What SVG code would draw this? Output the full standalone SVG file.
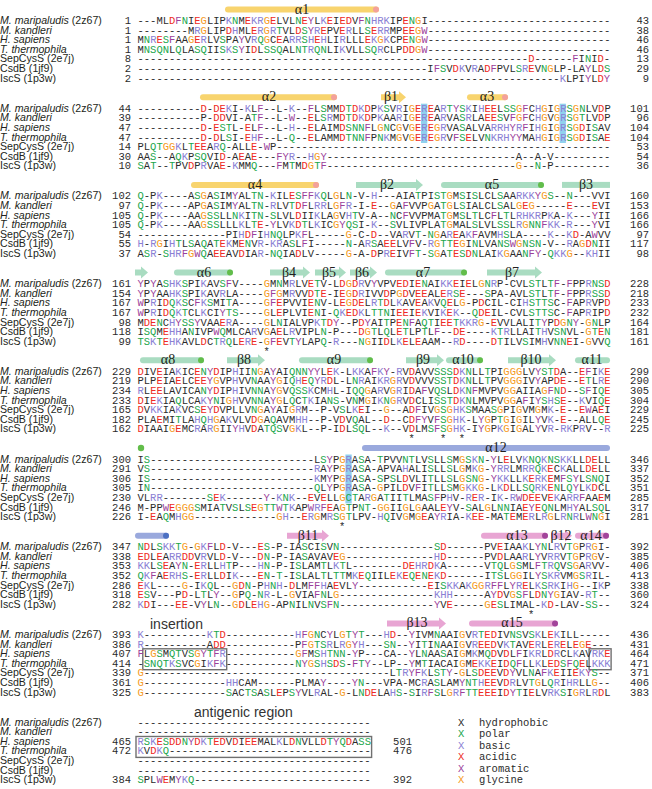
<svg xmlns="http://www.w3.org/2000/svg" width="652" height="789" viewBox="0 0 652 789">
<style>
.s{font-family:"Liberation Mono","Courier New",monospace;font-size:10.5px;fill:#2b2b2b}
.e{text-anchor:end}
.n{font-family:"Liberation Sans",Arial,sans-serif;font-size:10.6px;fill:#231f20}
.i{font-style:italic}
.p{fill:#1aa64b}.b{fill:#8a80d4}.a{fill:#ee2a24}.r{fill:#9c3f9b}.g{fill:#f59a23}
.l{font-family:"Liberation Serif","Times New Roman",serif;font-size:14px;fill:#231f20;text-anchor:middle}
.t{font-family:"Liberation Sans",Arial,sans-serif;font-size:14px;fill:#333}
.hy{fill:#f8d46e}.hyd{fill:#f3a19b}.gr{fill:#a9dcc1}.grd{fill:#62bd4a}.bl{fill:#9aa9dd}.bld{fill:#4c70c2}.pk{fill:#e8a5d3}.pkd{fill:#a2449a}
.hl{fill:#74c6ea;opacity:.8}
.box{fill:none;stroke:#707070;stroke-width:1.4}
</style>
<rect width="652" height="789" fill="#fff"/>

<g id="block1" transform="translate(0,24)">
<rect class="hy" x="225" y="-17.5" width="154" height="6" rx="3"/><circle class="hyd" cx="376" cy="-14.5" r="3"/>
<text class="l" x="302" y="-10.5">α1</text>
<g><text class="n"><tspan class="i">M. maripaludis</tspan> (2z67)</text><text class="s e" x="131">1</text><text class="s e" x="649">43</text>
<text class="s" x="137.5">---ML<tspan class="a">D</tspan><tspan class="r">F</tspan><tspan class="p">N</tspan>I<tspan class="a">E</tspan><tspan class="g">G</tspan>LIP<tspan class="b">K</tspan><tspan class="p">N</tspan>M<tspan class="a">E</tspan><tspan class="b">KR</tspan><tspan class="g">G</tspan><tspan class="a">E</tspan>LVL<tspan class="p">N</tspan><tspan class="a">E</tspan><tspan class="r">Y</tspan>L<tspan class="b">K</tspan><tspan class="a">E</tspan>I<tspan class="a">ED</tspan>V<tspan class="r">F</tspan><tspan class="p">N</tspan><tspan class="b">HRK</tspan>IP<tspan class="a">E</tspan><tspan class="p">N</tspan><tspan class="g">G</tspan>I-----------------------------</text></g>
<g transform="translate(0,9.6)"><text class="n i">M. kandleri</text><text class="s e" x="131">1</text><text class="s e" x="649">38</text>
<text class="s" x="137.5">--------M<tspan class="b">R</tspan><tspan class="g">G</tspan>LIP<tspan class="a">D</tspan><tspan class="b">H</tspan>ML<tspan class="a">E</tspan><tspan class="b">R</tspan><tspan class="g">G</tspan><tspan class="b">R</tspan><tspan class="p">T</tspan>VL<tspan class="a">D</tspan><tspan class="p">S</tspan><tspan class="r">Y</tspan><tspan class="b">R</tspan><tspan class="a">E</tspan>PV<tspan class="a">E</tspan><tspan class="b">R</tspan>LL<tspan class="p">S</tspan><tspan class="a">E</tspan><tspan class="b">RR</tspan>MP<tspan class="a">EE</tspan><tspan class="g">G</tspan><tspan class="r">W</tspan>-----------------------------</text></g>
<g transform="translate(0,19.2)"><text class="n i">H. sapiens</text><text class="s e" x="131">1</text><text class="s e" x="649">46</text>
<text class="s" x="137.5">M<tspan class="p">N</tspan><tspan class="b">R</tspan><tspan class="a">E</tspan><tspan class="p">S</tspan><tspan class="r">F</tspan>AA<tspan class="g">G</tspan><tspan class="a">E</tspan><tspan class="b">R</tspan>LV<tspan class="p">S</tspan>PA<tspan class="r">Y</tspan>V<tspan class="b">R</tspan><tspan class="p">Q</tspan><tspan class="g">G</tspan>C<tspan class="a">E</tspan>A<tspan class="b">RR</tspan><tspan class="p">S</tspan><tspan class="b">H</tspan><tspan class="a">E</tspan><tspan class="b">H</tspan>LI<tspan class="b">R</tspan>LLL<tspan class="a">E</tspan><tspan class="b">K</tspan><tspan class="g">G</tspan><tspan class="b">K</tspan>CP<tspan class="a">E</tspan><tspan class="p">N</tspan><tspan class="g">G</tspan><tspan class="r">W</tspan>-----------------------------</text></g>
<g transform="translate(0,28.8)"><text class="n i">T. thermophila</text><text class="s e" x="131">1</text><text class="s e" x="649">46</text>
<text class="s" x="137.5">M<tspan class="p">NSQN</tspan>L<tspan class="p">Q</tspan>LA<tspan class="p">SQ</tspan>II<tspan class="p">S</tspan><tspan class="b">K</tspan><tspan class="p">S</tspan><tspan class="r">Y</tspan>I<tspan class="a">D</tspan>L<tspan class="p">SSQ</tspan>AL<tspan class="p">NT</tspan><tspan class="b">R</tspan><tspan class="p">QN</tspan>LI<tspan class="b">K</tspan>VLL<tspan class="p">SQ</tspan><tspan class="b">R</tspan>CLP<tspan class="a">DD</tspan><tspan class="g">G</tspan><tspan class="r">W</tspan>-----------------------------</text></g>
<g transform="translate(0,38.4)"><text class="n">SepCysS (2e7j)</text><text class="s e" x="131">8</text><text class="s e" x="649">13</text>
<text class="s" x="137.5">--------------------------------------------------------------<tspan class="a">D</tspan>------<tspan class="r">F</tspan>I<tspan class="p">N</tspan>I<tspan class="a">D</tspan>-</text></g>
<g transform="translate(0,48)"><text class="n">CsdB (1jf9)</text><text class="s e" x="131">2</text><text class="s e" x="649">29</text>
<text class="s" x="137.5">----------------------------------------------I<tspan class="r">F</tspan><tspan class="p">S</tspan>V<tspan class="a">D</tspan><tspan class="b">K</tspan>V<tspan class="b">R</tspan>A<tspan class="a">D</tspan><tspan class="r">F</tspan>PVL<tspan class="p">S</tspan><tspan class="b">R</tspan><tspan class="a">E</tspan>V<tspan class="p">N</tspan><tspan class="g">G</tspan>LP-LA<tspan class="r">Y</tspan>L<tspan class="a">D</tspan><tspan class="p">S</tspan></text></g>
<g transform="translate(0,57.6)"><text class="n">IscS (1p3w)</text><text class="s e" x="131">2</text><text class="s e" x="649">9</text>
<text class="s" x="137.5">-------------------------------------------------------------------<tspan class="b">K</tspan>LPI<tspan class="r">Y</tspan>L<tspan class="a">D</tspan><tspan class="r">Y</tspan></text></g>
</g>

<g id="block2" transform="translate(0,111.7)">
<rect class="hl" x="421" y="-8" width="6.3" height="39.3"/><rect class="hl" x="559.6" y="-8" width="6.3" height="39.3"/>
<rect class="hy" x="200" y="-17.5" width="137" height="6" rx="3"/><circle class="hyd" cx="334" cy="-14.5" r="3"/>
<path class="hy" d="M381 -17.5H399V-20.5L406 -14.5L399 -8.5V-11.5H381Z"/>
<rect class="hy" x="467" y="-17.5" width="41" height="6" rx="3"/><circle class="hyd" cx="505" cy="-14.5" r="3"/>
<text class="l" x="269" y="-10.5">α2</text><text class="l" x="391" y="-10.5">β1</text><text class="l" x="487" y="-10.5">α3</text>
<g><text class="n"><tspan class="i">M. maripaludis</tspan> (2z67)</text><text class="s e" x="131">44</text><text class="s e" x="649">101</text>
<text class="s" x="137.5">----------<tspan class="a">D</tspan>-<tspan class="a">DE</tspan><tspan class="b">K</tspan>I-<tspan class="b">K</tspan>L<tspan class="r">F</tspan>--L-<tspan class="b">K</tspan>--<tspan class="r">F</tspan>L<tspan class="p">S</tspan>MM<tspan class="a">D</tspan><tspan class="p">T</tspan><tspan class="a">D</tspan><tspan class="b">K</tspan><tspan class="a">D</tspan>P<tspan class="b">K</tspan><tspan class="p">S</tspan>V<tspan class="b">R</tspan>I<tspan class="g">G</tspan><tspan class="a">E</tspan><tspan class="b">R</tspan><tspan class="a">E</tspan>A<tspan class="b">R</tspan><tspan class="p">T</tspan><tspan class="r">Y</tspan><tspan class="p">S</tspan><tspan class="b">K</tspan>I<tspan class="b">H</tspan><tspan class="a">EE</tspan>L<tspan class="p">SS</tspan><tspan class="g">G</tspan><tspan class="r">F</tspan>C<tspan class="b">H</tspan><tspan class="g">G</tspan>I<tspan class="g">G</tspan><tspan class="b">R</tspan><tspan class="p">S</tspan><tspan class="g">G</tspan><tspan class="p">N</tspan>LV<tspan class="a">D</tspan>P</text></g>
<g transform="translate(0,9.6)"><text class="n i">M. kandleri</text><text class="s e" x="131">39</text><text class="s e" x="649">96</text>
<text class="s" x="137.5">----------P-<tspan class="a">DD</tspan>VI-A<tspan class="p">T</tspan><tspan class="r">F</tspan>--L-<tspan class="r">W</tspan>--<tspan class="a">E</tspan>L<tspan class="p">S</tspan><tspan class="b">R</tspan>M<tspan class="a">D</tspan><tspan class="p">T</tspan><tspan class="a">D</tspan><tspan class="b">K</tspan><tspan class="a">D</tspan>P<tspan class="b">K</tspan>AA<tspan class="b">R</tspan>I<tspan class="g">G</tspan><tspan class="a">E</tspan><tspan class="b">R</tspan><tspan class="a">E</tspan>A<tspan class="b">R</tspan>VA<tspan class="p">S</tspan><tspan class="b">R</tspan>LA<tspan class="a">EE</tspan><tspan class="p">S</tspan>V<tspan class="r">F</tspan><tspan class="g">G</tspan><tspan class="r">F</tspan>C<tspan class="b">H</tspan><tspan class="g">G</tspan>V<tspan class="g">G</tspan><tspan class="b">R</tspan><tspan class="p">S</tspan><tspan class="g">G</tspan><tspan class="p">T</tspan>LV<tspan class="a">D</tspan>P</text></g>
<g transform="translate(0,19.2)"><text class="n i">H. sapiens</text><text class="s e" x="131">47</text><text class="s e" x="649">104</text>
<text class="s" x="137.5">----------<tspan class="a">D</tspan>-<tspan class="a">E</tspan><tspan class="p">ST</tspan>L-<tspan class="a">E</tspan>L<tspan class="r">F</tspan>--L-<tspan class="b">H</tspan>--<tspan class="a">E</tspan>LAIM<tspan class="a">D</tspan><tspan class="p">SNN</tspan><tspan class="r">F</tspan>L<tspan class="g">G</tspan><tspan class="p">N</tspan>C<tspan class="g">G</tspan>V<tspan class="g">G</tspan><tspan class="a">E</tspan><tspan class="b">R</tspan><tspan class="a">E</tspan><tspan class="g">G</tspan><tspan class="b">R</tspan>VA<tspan class="p">S</tspan>ALVA<tspan class="b">RRH</tspan><tspan class="r">Y</tspan><tspan class="b">R</tspan><tspan class="r">F</tspan>I<tspan class="b">H</tspan><tspan class="g">G</tspan>I<tspan class="g">G</tspan><tspan class="b">R</tspan><tspan class="p">S</tspan><tspan class="g">G</tspan><tspan class="a">D</tspan>I<tspan class="p">S</tspan>AV</text></g>
<g transform="translate(0,28.8)"><text class="n i">T. thermophila</text><text class="s e" x="131">47</text><text class="s e" x="649">104</text>
<text class="s" x="137.5">----------<tspan class="a">D</tspan>-<tspan class="a">D</tspan>L<tspan class="p">S</tspan>I-<tspan class="a">E</tspan><tspan class="b">H</tspan><tspan class="r">F</tspan>--L-<tspan class="p">Q</tspan>--<tspan class="a">E</tspan>LAMM<tspan class="a">D</tspan><tspan class="p">TNN</tspan><tspan class="r">F</tspan>P<tspan class="p">N</tspan><tspan class="b">K</tspan>M<tspan class="g">G</tspan>V<tspan class="g">G</tspan><tspan class="a">E</tspan><tspan class="b">R</tspan><tspan class="a">E</tspan><tspan class="g">G</tspan><tspan class="b">R</tspan>V<tspan class="r">F</tspan><tspan class="p">S</tspan><tspan class="a">E</tspan>LV<tspan class="p">N</tspan><tspan class="b">KRH</tspan><tspan class="r">YY</tspan>MA<tspan class="b">H</tspan><tspan class="g">G</tspan>I<tspan class="g">G</tspan><tspan class="b">R</tspan><tspan class="p">S</tspan><tspan class="g">G</tspan><tspan class="a">D</tspan>I<tspan class="p">S</tspan>A<tspan class="a">E</tspan></text></g>
<g transform="translate(0,38.4)"><text class="n">SepCysS (2e7j)</text><text class="s e" x="131">14</text><text class="s e" x="649">53</text>
<text class="s" x="137.5">PL<tspan class="p">QT</tspan><tspan class="g">GG</tspan><tspan class="b">K</tspan>L<tspan class="p">T</tspan><tspan class="a">EE</tspan>A<tspan class="b">R</tspan><tspan class="p">Q</tspan>-ALL<tspan class="a">E</tspan>-<tspan class="r">W</tspan>P-----------------------------------------------------</text></g>
<g transform="translate(0,48)"><text class="n">CsdB (1jf9)</text><text class="s e" x="131">30</text><text class="s e" x="649">54</text>
<text class="s" x="137.5">AA<tspan class="p">S</tspan>--A<tspan class="p">Q</tspan><tspan class="b">K</tspan>P<tspan class="p">SQ</tspan>VI<tspan class="a">D</tspan>-A<tspan class="a">E</tspan>A<tspan class="a">E</tspan>---<tspan class="r">FY</tspan><tspan class="b">R</tspan>--<tspan class="b">H</tspan><tspan class="g">G</tspan><tspan class="r">Y</tspan>------------------------------A--A-V---------</text></g>
<g transform="translate(0,57.6)"><text class="n">IscS (1p3w)</text><text class="s e" x="131">10</text><text class="s e" x="649">36</text>
<text class="s" x="137.5"><tspan class="p">S</tspan>A<tspan class="p">T</tspan>--<tspan class="p">T</tspan>PV<tspan class="a">D</tspan>P<tspan class="b">R</tspan>VA<tspan class="a">E</tspan>-<tspan class="b">K</tspan>MM<tspan class="p">Q</tspan>---<tspan class="r">F</tspan>M<tspan class="p">T</tspan>M<tspan class="a">D</tspan><tspan class="g">G</tspan><tspan class="p">T</tspan><tspan class="r">F</tspan>------------------------------<tspan class="g">G</tspan>--<tspan class="p">N</tspan>-P---------</text></g>
</g>

<g id="block3" transform="translate(0,199.4)">
<rect class="hy" x="191" y="-17.5" width="128" height="6" rx="3"/><circle class="hyd" cx="316" cy="-14.5" r="3"/>
<path class="gr" d="M356 -17.5H416V-20.5L423 -14.5L416 -8.5V-11.5H356Z"/>
<rect class="gr" x="441" y="-17.5" width="103" height="6" rx="3"/><circle class="grd" cx="541" cy="-14.5" r="3"/>
<rect class="gr" x="562" y="-17.5" width="48" height="6"/>
<text class="l" x="255" y="-10.5">α4</text><text class="l" x="387" y="-10.5">β2</text><text class="l" x="492" y="-10.5">α5</text><text class="l" x="586" y="-10.5">β3</text>
<g><text class="n"><tspan class="i">M. maripaludis</tspan> (2z67)</text><text class="s e" x="131">102</text><text class="s e" x="649">160</text>
<text class="s" x="137.5"><tspan class="p">Q</tspan>-P<tspan class="b">K</tspan>----A<tspan class="p">S</tspan><tspan class="g">G</tspan>A<tspan class="p">S</tspan>IM<tspan class="r">Y</tspan>AL<tspan class="p">TN</tspan>-<tspan class="b">K</tspan>IL<tspan class="a">E</tspan><tspan class="p">S</tspan><tspan class="r">FF</tspan><tspan class="b">K</tspan><tspan class="p">Q</tspan>L<tspan class="g">G</tspan>L<tspan class="p">N</tspan>-V-<tspan class="b">H</tspan>---AIA<tspan class="p">T</tspan>PI<tspan class="p">ST</tspan><tspan class="g">G</tspan>M<tspan class="p">S</tspan>I<tspan class="p">S</tspan>LCL<tspan class="p">S</tspan>AA<tspan class="b">RKK</tspan><tspan class="r">Y</tspan><tspan class="g">G</tspan><tspan class="p">S</tspan>--<tspan class="p">N</tspan>---VVI</text></g>
<g transform="translate(0,9.6)"><text class="n i">M. kandleri</text><text class="s e" x="131">97</text><text class="s e" x="649">153</text>
<text class="s" x="137.5"><tspan class="p">Q</tspan>-P<tspan class="b">K</tspan>----AP<tspan class="g">G</tspan>A<tspan class="p">S</tspan>IM<tspan class="r">Y</tspan>AL<tspan class="p">TN</tspan>-<tspan class="b">R</tspan>LV<tspan class="p">T</tspan><tspan class="a">D</tspan><tspan class="r">F</tspan>L<tspan class="b">RR</tspan>L<tspan class="g">G</tspan><tspan class="r">F</tspan><tspan class="b">R</tspan>-I-<tspan class="a">E</tspan>--<tspan class="g">G</tspan>A<tspan class="r">F</tspan>VVP<tspan class="g">G</tspan>A<tspan class="p">T</tspan><tspan class="g">G</tspan>L<tspan class="p">S</tspan>IALCL<tspan class="p">S</tspan>AL<tspan class="g">G</tspan><tspan class="a">E</tspan><tspan class="g">G</tspan>-----<tspan class="a">E</tspan>---<tspan class="a">E</tspan>VI</text></g>
<g transform="translate(0,19.2)"><text class="n i">H. sapiens</text><text class="s e" x="131">105</text><text class="s e" x="649">166</text>
<text class="s" x="137.5"><tspan class="p">Q</tspan>-P<tspan class="b">K</tspan>----AA<tspan class="g">G</tspan><tspan class="p">SS</tspan>LL<tspan class="p">N</tspan><tspan class="b">K</tspan>I<tspan class="p">TN</tspan>-<tspan class="p">S</tspan>LVL<tspan class="a">D</tspan>II<tspan class="b">K</tspan>LA<tspan class="g">G</tspan>V<tspan class="b">H</tspan><tspan class="p">T</tspan>V-A--<tspan class="p">N</tspan>C<tspan class="r">F</tspan>VVPMA<tspan class="p">T</tspan><tspan class="g">G</tspan>M<tspan class="p">S</tspan>L<tspan class="p">T</tspan>LC<tspan class="r">F</tspan>L<tspan class="p">T</tspan>L<tspan class="b">RHKR</tspan>P<tspan class="b">K</tspan>A-<tspan class="b">K</tspan>---<tspan class="r">Y</tspan>II</text></g>
<g transform="translate(0,28.8)"><text class="n i">T. thermophila</text><text class="s e" x="131">105</text><text class="s e" x="649">166</text>
<text class="s" x="137.5"><tspan class="p">Q</tspan>-P<tspan class="b">K</tspan>----AA<tspan class="g">G</tspan><tspan class="p">SS</tspan>LLL<tspan class="b">K</tspan>L<tspan class="p">T</tspan><tspan class="a">E</tspan>-<tspan class="r">Y</tspan>LV<tspan class="b">K</tspan><tspan class="a">D</tspan><tspan class="p">T</tspan>L<tspan class="b">K</tspan>IC<tspan class="g">G</tspan><tspan class="r">Y</tspan><tspan class="p">QS</tspan>I-<tspan class="b">K</tspan>--<tspan class="p">S</tspan>VLIVPLA<tspan class="p">T</tspan><tspan class="g">G</tspan>MAL<tspan class="p">S</tspan>LVL<tspan class="p">SS</tspan>L<tspan class="b">R</tspan><tspan class="g">G</tspan><tspan class="p">NN</tspan><tspan class="r">F</tspan><tspan class="b">KK</tspan>-<tspan class="b">R</tspan>---<tspan class="r">Y</tspan>VI</text></g>
<g transform="translate(0,38.4)"><text class="n">SepCysS (2e7j)</text><text class="s e" x="131">54</text><text class="s e" x="649">97</text>
<text class="s" x="137.5">--------------PI<tspan class="b">H</tspan><tspan class="a">D</tspan><tspan class="r">F</tspan>I<tspan class="b">H</tspan><tspan class="p">NQ</tspan>LP<tspan class="b">K</tspan><tspan class="r">F</tspan>L-----<tspan class="g">G</tspan>-C-<tspan class="a">D</tspan>--VA<tspan class="b">R</tspan>V<tspan class="p">T</tspan>-<tspan class="p">N</tspan><tspan class="g">G</tspan>A<tspan class="b">R</tspan><tspan class="a">E</tspan>A<tspan class="b">K</tspan><tspan class="r">F</tspan>AVM<tspan class="b">H</tspan><tspan class="p">S</tspan>LA----<tspan class="b">K</tspan>--<tspan class="b">K</tspan><tspan class="a">D</tspan>-A<tspan class="r">W</tspan>VV</text></g>
<g transform="translate(0,48)"><text class="n">CsdB (1jf9)</text><text class="s e" x="131">55</text><text class="s e" x="649">117</text>
<text class="s" x="137.5"><tspan class="b">H</tspan>-<tspan class="b">R</tspan><tspan class="g">G</tspan>I<tspan class="b">H</tspan><tspan class="p">T</tspan>L<tspan class="p">S</tspan>A<tspan class="p">Q</tspan>A<tspan class="p">T</tspan><tspan class="a">E</tspan><tspan class="b">K</tspan>M<tspan class="a">E</tspan><tspan class="p">N</tspan>V<tspan class="b">R</tspan>-<tspan class="b">KR</tspan>A<tspan class="p">S</tspan>L<tspan class="r">F</tspan>I-----<tspan class="p">N</tspan>-A<tspan class="b">R</tspan><tspan class="p">S</tspan>A<tspan class="a">EE</tspan>LV<tspan class="r">F</tspan>V-<tspan class="b">R</tspan><tspan class="g">G</tspan><tspan class="p">TT</tspan><tspan class="a">E</tspan><tspan class="g">G</tspan>I<tspan class="p">N</tspan>LVA<tspan class="p">NS</tspan><tspan class="r">W</tspan><tspan class="g">G</tspan><tspan class="p">NSN</tspan>-V--<tspan class="b">R</tspan>A<tspan class="g">G</tspan><tspan class="a">D</tspan><tspan class="p">N</tspan>II</text></g>
<g transform="translate(0,57.6)"><text class="n">IscS (1p3w)</text><text class="s e" x="131">37</text><text class="s e" x="649">98</text>
<text class="s" x="137.5">A<tspan class="p">S</tspan><tspan class="b">R</tspan>-<tspan class="p">S</tspan><tspan class="b">HR</tspan><tspan class="r">F</tspan><tspan class="g">G</tspan><tspan class="r">W</tspan><tspan class="p">Q</tspan>A<tspan class="a">EE</tspan>AV<tspan class="a">D</tspan>IA<tspan class="b">R</tspan>-<tspan class="p">NQ</tspan>IA<tspan class="a">D</tspan>LV-----<tspan class="g">G</tspan>-A-<tspan class="a">D</tspan>P<tspan class="b">R</tspan><tspan class="a">E</tspan>IV<tspan class="r">F</tspan><tspan class="p">T</tspan>-<tspan class="p">S</tspan><tspan class="g">G</tspan>A<tspan class="p">T</tspan><tspan class="a">E</tspan><tspan class="p">S</tspan><tspan class="a">D</tspan><tspan class="p">N</tspan>LAI<tspan class="b">K</tspan><tspan class="g">G</tspan>AA<tspan class="p">N</tspan><tspan class="r">FY</tspan>-<tspan class="p">Q</tspan><tspan class="b">KK</tspan><tspan class="g">G</tspan>--<tspan class="b">KH</tspan>II</text></g>
</g>

<g id="block4" transform="translate(0,287.1)">
<path class="gr" d="M135 -17.5H141V-20.5L148 -14.5L141 -8.5V-11.5H135Z"/>
<rect class="gr" x="174" y="-17.5" width="59" height="6" rx="3"/><circle class="grd" cx="230" cy="-14.5" r="3"/>
<path class="gr" d="M270 -17.5H303V-20.5L310 -14.5L303 -8.5V-11.5H270Z"/>
<path class="gr" d="M315 -17.5H339V-20.5L346 -14.5L339 -8.5V-11.5H315Z"/>
<path class="gr" d="M350 -17.5H370V-20.5L377 -14.5L370 -8.5V-11.5H350Z"/>
<rect class="gr" x="385" y="-17.5" width="82" height="6" rx="3"/><circle class="grd" cx="464" cy="-14.5" r="3"/>
<path class="gr" d="M487 -17.5H535V-20.5L542 -14.5L535 -8.5V-11.5H487Z"/>
<text class="l" x="204" y="-10.5">α6</text><text class="l" x="289" y="-10.5">β4</text><text class="l" x="329" y="-10.5">β5</text><text class="l" x="362" y="-10.5">β6</text><text class="l" x="423" y="-10.5">α7</text><text class="l" x="512" y="-10.5">β7</text>
<g><text class="n"><tspan class="i">M. maripaludis</tspan> (2z67)</text><text class="s e" x="131">161</text><text class="s e" x="649">228</text>
<text class="s" x="137.5"><tspan class="r">Y</tspan>P<tspan class="r">Y</tspan>A<tspan class="p">S</tspan><tspan class="b">HK</tspan><tspan class="p">S</tspan>PI<tspan class="b">K</tspan>AV<tspan class="p">S</tspan><tspan class="r">F</tspan>V----<tspan class="g">G</tspan>M<tspan class="p">N</tspan>M<tspan class="b">R</tspan>LV<tspan class="a">E</tspan><tspan class="p">T</tspan>V-L<tspan class="a">D</tspan><tspan class="g">G</tspan><tspan class="a">D</tspan><tspan class="b">R</tspan>V<tspan class="r">Y</tspan>VPV<tspan class="a">ED</tspan>I<tspan class="a">E</tspan><tspan class="p">N</tspan>AI<tspan class="b">KK</tspan><tspan class="a">E</tspan>I<tspan class="a">E</tspan>L<tspan class="g">G</tspan><tspan class="p">N</tspan><tspan class="b">R</tspan>P-CVL<tspan class="p">ST</tspan>L<tspan class="p">T</tspan><tspan class="r">F</tspan>-<tspan class="r">F</tspan>PP<tspan class="b">R</tspan><tspan class="p">NS</tspan><tspan class="a">D</tspan></text></g>
<g transform="translate(0,9.6)"><text class="n i">M. kandleri</text><text class="s e" x="131">154</text><text class="s e" x="649">218</text>
<text class="s" x="137.5"><tspan class="r">Y</tspan>P<tspan class="r">Y</tspan>AA<tspan class="b">HK</tspan><tspan class="p">S</tspan>PI<tspan class="b">K</tspan>AV<tspan class="b">R</tspan>LA----<tspan class="g">G</tspan><tspan class="r">F</tspan><tspan class="g">G</tspan>M<tspan class="b">R</tspan>VV<tspan class="a">D</tspan><tspan class="p">T</tspan><tspan class="a">E</tspan>-I<tspan class="a">E</tspan><tspan class="g">G</tspan><tspan class="a">D</tspan><tspan class="b">R</tspan>IVV<tspan class="a">D</tspan>P<tspan class="g">G</tspan><tspan class="a">D</tspan>V<tspan class="a">EE</tspan>AL<tspan class="a">E</tspan><tspan class="b">R</tspan><tspan class="p">S</tspan><tspan class="a">E</tspan>---<tspan class="p">S</tspan>PA-AVL<tspan class="p">ST</tspan>L<tspan class="p">T</tspan><tspan class="r">F</tspan>-<tspan class="r">F</tspan>PP<tspan class="b">R</tspan><tspan class="p">SS</tspan><tspan class="a">D</tspan></text></g>
<g transform="translate(0,19.2)"><text class="n i">H. sapiens</text><text class="s e" x="131">167</text><text class="s e" x="649">233</text>
<text class="s" x="137.5"><tspan class="r">W</tspan>P<tspan class="b">R</tspan>I<tspan class="a">D</tspan><tspan class="p">Q</tspan><tspan class="b">K</tspan><tspan class="p">S</tspan>C<tspan class="r">F</tspan><tspan class="b">K</tspan><tspan class="p">S</tspan>MI<tspan class="p">T</tspan>A----<tspan class="g">G</tspan><tspan class="r">F</tspan><tspan class="a">E</tspan>PVVI<tspan class="a">E</tspan><tspan class="p">N</tspan>V-L<tspan class="a">E</tspan><tspan class="g">G</tspan><tspan class="a">DE</tspan>L<tspan class="b">R</tspan><tspan class="p">T</tspan><tspan class="a">D</tspan>L<tspan class="b">K</tspan>AV<tspan class="a">E</tspan>A<tspan class="b">K</tspan>V<tspan class="p">Q</tspan><tspan class="a">E</tspan>L<tspan class="g">G</tspan>-P<tspan class="a">D</tspan>CIL-CI<tspan class="b">H</tspan><tspan class="p">STTS</tspan>C-<tspan class="r">F</tspan>AP<tspan class="b">R</tspan>VP<tspan class="a">D</tspan></text></g>
<g transform="translate(0,28.8)"><text class="n i">T. thermophila</text><text class="s e" x="131">167</text><text class="s e" x="649">232</text>
<text class="s" x="137.5"><tspan class="r">W</tspan>P<tspan class="b">R</tspan>I<tspan class="a">D</tspan><tspan class="p">Q</tspan><tspan class="b">K</tspan><tspan class="p">T</tspan>CL<tspan class="b">K</tspan>CI<tspan class="r">Y</tspan><tspan class="p">TS</tspan>----<tspan class="g">G</tspan>L<tspan class="a">E</tspan>PLVI<tspan class="a">E</tspan><tspan class="p">N</tspan>I-<tspan class="p">Q</tspan><tspan class="b">K</tspan><tspan class="a">ED</tspan><tspan class="b">K</tspan>L<tspan class="p">TTN</tspan>I<tspan class="a">EE</tspan>I<tspan class="a">E</tspan><tspan class="b">K</tspan>VI<tspan class="b">K</tspan><tspan class="a">E</tspan><tspan class="b">K</tspan>--<tspan class="p">Q</tspan><tspan class="a">DE</tspan>IL-CVL<tspan class="p">STTS</tspan>C-<tspan class="r">F</tspan>AP<tspan class="b">R</tspan>IP<tspan class="a">D</tspan></text></g>
<g transform="translate(0,38.4)"><text class="n">SepCysS (2e7j)</text><text class="s e" x="131">98</text><text class="s e" x="649">164</text>
<text class="s" x="137.5">M<tspan class="a">DE</tspan><tspan class="p">N</tspan>C<tspan class="b">H</tspan><tspan class="r">Y</tspan><tspan class="p">SS</tspan><tspan class="r">Y</tspan>VAA<tspan class="a">E</tspan><tspan class="b">R</tspan>A----<tspan class="g">G</tspan>L<tspan class="p">N</tspan>IALVP<tspan class="b">K</tspan><tspan class="p">T</tspan><tspan class="a">D</tspan><tspan class="r">Y</tspan>--P<tspan class="a">D</tspan><tspan class="r">Y</tspan>AI<tspan class="p">T</tspan>P<tspan class="a">E</tspan><tspan class="p">N</tspan><tspan class="r">F</tspan>A<tspan class="p">QT</tspan>I<tspan class="a">EE</tspan><tspan class="p">T</tspan><tspan class="b">KKR</tspan><tspan class="g">G</tspan>-<tspan class="a">E</tspan>VVLALI<tspan class="p">T</tspan><tspan class="r">Y</tspan>P<tspan class="a">D</tspan><tspan class="g">G</tspan><tspan class="p">N</tspan><tspan class="r">Y</tspan>-<tspan class="g">G</tspan><tspan class="p">N</tspan>LP</text></g>
<g transform="translate(0,48)"><text class="n">CsdB (1jf9)</text><text class="s e" x="131">118</text><text class="s e" x="649">181</text>
<text class="s" x="137.5">I<tspan class="p">SQ</tspan>M<tspan class="a">E</tspan><tspan class="b">HH</tspan>A<tspan class="p">N</tspan>IVP<tspan class="r">W</tspan><tspan class="p">Q</tspan>MLCA<tspan class="b">R</tspan>V<tspan class="g">G</tspan>A<tspan class="a">E</tspan>L<tspan class="b">R</tspan>VIPL<tspan class="p">N</tspan>-P---<tspan class="a">D</tspan><tspan class="g">G</tspan><tspan class="p">T</tspan>L<tspan class="p">Q</tspan>L<tspan class="a">E</tspan><tspan class="p">T</tspan>LP<tspan class="p">T</tspan>L<tspan class="r">F</tspan>--<tspan class="a">DE</tspan>----<tspan class="b">K</tspan><tspan class="p">T</tspan><tspan class="b">R</tspan>LLAI<tspan class="p">T</tspan><tspan class="b">H</tspan>V<tspan class="p">SN</tspan>VL-<tspan class="g">G</tspan><tspan class="p">T</tspan><tspan class="a">E</tspan><tspan class="p">N</tspan></text></g>
<g transform="translate(0,57.6)"><text class="n">IscS (1p3w)</text><text class="s e" x="131">99</text><text class="s e" x="649">161</text>
<text class="s" x="137.5"><tspan class="p">TS</tspan><tspan class="b">K</tspan><tspan class="p">T</tspan><tspan class="a">E</tspan><tspan class="b">HK</tspan>AVL<tspan class="a">D</tspan>C<tspan class="p">T</tspan><tspan class="b">R</tspan><tspan class="p">Q</tspan>L<tspan class="a">E</tspan><tspan class="b">R</tspan><tspan class="a">E</tspan>-<tspan class="g">G</tspan><tspan class="r">F</tspan><tspan class="a">E</tspan>V<tspan class="p">T</tspan><tspan class="r">Y</tspan>LAP<tspan class="p">Q</tspan>-<tspan class="b">R</tspan>---<tspan class="p">N</tspan><tspan class="g">G</tspan>II<tspan class="a">D</tspan>L<tspan class="b">K</tspan><tspan class="a">E</tspan>L<tspan class="a">E</tspan>AAM--<tspan class="b">R</tspan><tspan class="a">D</tspan>----<tspan class="a">D</tspan><tspan class="p">T</tspan>ILV<tspan class="p">S</tspan>IM<tspan class="b">H</tspan>V<tspan class="p">NN</tspan><tspan class="a">E</tspan>I-<tspan class="g">G</tspan>VV<tspan class="p">Q</tspan></text>
<text class="s" x="263.5" y="10">*</text></g>
</g>

<g id="block5" transform="translate(0,374.8)">
<rect class="gr" x="140" y="-17.5" width="64" height="6" rx="3"/><circle class="grd" cx="201" cy="-14.5" r="3"/>
<path class="gr" d="M227 -17.5H258V-20.5L265 -14.5L258 -8.5V-11.5H227Z"/>
<rect class="gr" x="299" y="-17.5" width="74" height="6" rx="3"/><circle class="grd" cx="370" cy="-14.5" r="3"/>
<path class="gr" d="M406 -17.5H437V-20.5L444 -14.5L437 -8.5V-11.5H406Z"/>
<rect class="gr" x="446" y="-17.5" width="37" height="6" rx="3"/><circle class="grd" cx="480" cy="-14.5" r="3"/>
<path class="gr" d="M508 -17.5H549V-20.5L556 -14.5L549 -8.5V-11.5H508Z"/>
<rect class="gr" x="575" y="-17.5" width="35" height="6" rx="3"/>
<text class="l" x="168" y="-10.5">α8</text><text class="l" x="244" y="-10.5">β8</text><text class="l" x="334" y="-10.5">α9</text><text class="l" x="423" y="-10.5">β9</text><text class="l" x="463" y="-10.5">α10</text><text class="l" x="531" y="-10.5">β10</text><text class="l" x="592" y="-10.5">α11</text>
<g><text class="n"><tspan class="i">M. maripaludis</tspan> (2z67)</text><text class="s e" x="131">229</text><text class="s e" x="649">299</text>
<text class="s" x="137.5"><tspan class="a">D</tspan>IV<tspan class="a">E</tspan>IA<tspan class="b">K</tspan>IC<tspan class="a">E</tspan><tspan class="p">N</tspan><tspan class="r">Y</tspan><tspan class="a">D</tspan>IP<tspan class="b">H</tspan>II<tspan class="p">N</tspan><tspan class="g">G</tspan>A<tspan class="r">Y</tspan>AI<tspan class="p">QNN</tspan><tspan class="r">YY</tspan>L<tspan class="a">E</tspan><tspan class="b">K</tspan>-L<tspan class="b">KK</tspan>A<tspan class="r">F</tspan><tspan class="b">K</tspan><tspan class="r">Y</tspan>-<tspan class="b">R</tspan>V<tspan class="a">D</tspan>AVV<tspan class="p">SSS</tspan><tspan class="a">D</tspan><tspan class="b">K</tspan><tspan class="p">N</tspan>LL<tspan class="p">T</tspan>PI<tspan class="g">GGG</tspan>LV<tspan class="r">Y</tspan><tspan class="p">ST</tspan><tspan class="a">D</tspan>A--<tspan class="a">E</tspan><tspan class="r">F</tspan>I<tspan class="b">K</tspan><tspan class="a">E</tspan></text></g>
<g transform="translate(0,9.6)"><text class="n i">M. kandleri</text><text class="s e" x="131">219</text><text class="s e" x="649">290</text>
<text class="s" x="137.5">PLP<tspan class="a">E</tspan>IA<tspan class="a">E</tspan>LC<tspan class="a">EE</tspan><tspan class="r">Y</tspan><tspan class="g">G</tspan>VP<tspan class="b">H</tspan>VV<tspan class="p">N</tspan>AA<tspan class="r">Y</tspan><tspan class="g">G</tspan>I<tspan class="p">Q</tspan><tspan class="b">H</tspan><tspan class="a">E</tspan><tspan class="p">Q</tspan><tspan class="r">Y</tspan><tspan class="b">R</tspan><tspan class="a">D</tspan>L-L<tspan class="p">N</tspan><tspan class="b">R</tspan>AI<tspan class="b">KR</tspan><tspan class="g">G</tspan><tspan class="b">R</tspan>V<tspan class="a">D</tspan>VVV<tspan class="p">SST</tspan><tspan class="a">D</tspan><tspan class="b">K</tspan><tspan class="p">N</tspan>LL<tspan class="p">T</tspan>PV<tspan class="g">GGG</tspan>IV<tspan class="r">Y</tspan>AP<tspan class="a">DE</tspan>--<tspan class="a">E</tspan><tspan class="p">T</tspan>L<tspan class="b">R</tspan><tspan class="a">E</tspan></text></g>
<g transform="translate(0,19.2)"><text class="n i">H. sapiens</text><text class="s e" x="131">234</text><text class="s e" x="649">305</text>
<text class="s" x="137.5"><tspan class="b">R</tspan>L<tspan class="a">EE</tspan>LAVICA<tspan class="p">N</tspan><tspan class="r">Y</tspan><tspan class="a">D</tspan>IP<tspan class="b">H</tspan>IV<tspan class="p">NN</tspan>A<tspan class="r">Y</tspan><tspan class="g">G</tspan>V<tspan class="p">QSS</tspan><tspan class="b">K</tspan>CM<tspan class="b">H</tspan>L-I<tspan class="p">QQ</tspan><tspan class="g">G</tspan>A<tspan class="b">R</tspan>V<tspan class="g">G</tspan><tspan class="b">R</tspan>I<tspan class="a">D</tspan>A<tspan class="r">F</tspan>V<tspan class="p">QS</tspan>L<tspan class="a">D</tspan><tspan class="b">K</tspan><tspan class="p">N</tspan><tspan class="r">F</tspan>MVPV<tspan class="g">GG</tspan>AIIA<tspan class="g">G</tspan><tspan class="r">F</tspan><tspan class="p">N</tspan><tspan class="a">D</tspan>--<tspan class="p">S</tspan><tspan class="r">F</tspan>I<tspan class="p">Q</tspan><tspan class="a">E</tspan></text></g>
<g transform="translate(0,28.8)"><text class="n i">T. thermophila</text><text class="s e" x="131">233</text><text class="s e" x="649">304</text>
<text class="s" x="137.5"><tspan class="a">D</tspan>I<tspan class="a">E</tspan><tspan class="b">K</tspan>IA<tspan class="p">Q</tspan>LCA<tspan class="b">K</tspan><tspan class="r">Y</tspan><tspan class="p">N</tspan>I<tspan class="g">G</tspan><tspan class="b">H</tspan>VV<tspan class="p">NN</tspan>A<tspan class="r">Y</tspan><tspan class="g">G</tspan>L<tspan class="p">Q</tspan>C<tspan class="p">T</tspan><tspan class="b">K</tspan>IA<tspan class="p">NS</tspan>-V<tspan class="p">N</tspan>M<tspan class="g">G</tspan>I<tspan class="b">K</tspan><tspan class="p">N</tspan><tspan class="g">G</tspan><tspan class="b">R</tspan>V<tspan class="a">D</tspan>CLI<tspan class="p">SST</tspan><tspan class="a">D</tspan><tspan class="b">K</tspan><tspan class="p">N</tspan>LMVPV<tspan class="g">GG</tspan>A<tspan class="r">F</tspan>I<tspan class="r">Y</tspan><tspan class="p">S</tspan><tspan class="b">H</tspan><tspan class="p">S</tspan><tspan class="a">E</tspan>--<tspan class="b">K</tspan>VI<tspan class="p">Q</tspan><tspan class="a">E</tspan></text></g>
<g transform="translate(0,38.4)"><text class="n">SepCysS (2e7j)</text><text class="s e" x="131">165</text><text class="s e" x="649">229</text>
<text class="s" x="137.5"><tspan class="a">D</tspan>V<tspan class="b">KK</tspan>IA<tspan class="b">K</tspan>VC<tspan class="p">S</tspan><tspan class="a">E</tspan><tspan class="r">Y</tspan><tspan class="a">D</tspan>VPLLV<tspan class="p">N</tspan><tspan class="g">G</tspan>A<tspan class="r">Y</tspan>AI<tspan class="g">G</tspan><tspan class="b">R</tspan>M--P-V<tspan class="p">S</tspan>L<tspan class="b">K</tspan><tspan class="a">E</tspan>I--<tspan class="g">G</tspan>--A<tspan class="a">D</tspan><tspan class="r">F</tspan>IV<tspan class="g">G</tspan><tspan class="p">S</tspan><tspan class="g">G</tspan><tspan class="b">HK</tspan><tspan class="p">S</tspan>MAA<tspan class="p">S</tspan><tspan class="g">G</tspan>PI<tspan class="g">G</tspan>VM<tspan class="g">G</tspan>M<tspan class="b">K</tspan>-<tspan class="a">E</tspan>--<tspan class="a">E</tspan><tspan class="r">W</tspan>A<tspan class="a">E</tspan>I</text></g>
<g transform="translate(0,48)"><text class="n">CsdB (1jf9)</text><text class="s e" x="131">182</text><text class="s e" x="649">245</text>
<text class="s" x="137.5">PLA<tspan class="a">E</tspan>MI<tspan class="p">T</tspan>LA<tspan class="b">H</tspan><tspan class="p">Q</tspan><tspan class="b">H</tspan><tspan class="g">G</tspan>A<tspan class="b">K</tspan>VLV<tspan class="a">D</tspan><tspan class="g">G</tspan>A<tspan class="p">Q</tspan>AVM<tspan class="b">HH</tspan>--P-V<tspan class="a">D</tspan>V<tspan class="p">Q</tspan>AL--<tspan class="a">D</tspan>--C<tspan class="a">D</tspan><tspan class="r">FY</tspan>V<tspan class="r">F</tspan><tspan class="p">S</tspan><tspan class="g">G</tspan><tspan class="b">HK</tspan>-L<tspan class="r">Y</tspan><tspan class="g">G</tspan>P<tspan class="p">T</tspan><tspan class="g">G</tspan>I<tspan class="g">G</tspan>IL<tspan class="r">Y</tspan>V<tspan class="b">K</tspan>-<tspan class="a">E</tspan>--ALL<tspan class="p">Q</tspan><tspan class="a">E</tspan></text></g>
<g transform="translate(0,57.6)"><text class="n">IscS (1p3w)</text><text class="s e" x="131">162</text><text class="s e" x="649">225</text>
<text class="s" x="137.5"><tspan class="a">D</tspan>IAAI<tspan class="g">G</tspan><tspan class="a">E</tspan>MC<tspan class="b">R</tspan>A<tspan class="b">R</tspan><tspan class="g">G</tspan>II<tspan class="r">Y</tspan><tspan class="b">H</tspan>V<tspan class="a">D</tspan>A<tspan class="p">TQS</tspan>V<tspan class="g">G</tspan><tspan class="b">K</tspan>L--P-I<tspan class="a">D</tspan>L<tspan class="p">SQ</tspan>L--<tspan class="b">K</tspan>--V<tspan class="a">D</tspan>LM<tspan class="p">S</tspan><tspan class="r">F</tspan><tspan class="p">S</tspan><tspan class="g">G</tspan><tspan class="b">HK</tspan>-I<tspan class="r">Y</tspan><tspan class="g">G</tspan>P<tspan class="b">K</tspan><tspan class="g">G</tspan>I<tspan class="g">G</tspan>AL<tspan class="r">Y</tspan>V<tspan class="b">R</tspan>-<tspan class="b">RK</tspan>P<tspan class="b">R</tspan>V--<tspan class="b">R</tspan></text>
<text class="s" x="408.4" y="10">*</text><text class="s" x="439.9" y="10">*</text><text class="s" x="458.8" y="10">*</text></g>
</g>

<g id="block6" transform="translate(0,462.5)">
<rect class="hl" x="345.4" y="-8" width="6.3" height="48.9"/>
<circle class="grd" cx="141" cy="-14.5" r="3.2"/>
<rect class="bl" x="362" y="-17.5" width="248" height="6" rx="3"/>
<text class="l" x="496" y="-10.5">α12</text>
<g><text class="n"><tspan class="i">M. maripaludis</tspan> (2z67)</text><text class="s e" x="131">300</text><text class="s e" x="649">346</text>
<text class="s" x="137.5">I<tspan class="p">S</tspan>--------------------------L<tspan class="p">S</tspan><tspan class="r">Y</tspan>P<tspan class="g">G</tspan><tspan class="b">R</tspan>A<tspan class="p">S</tspan>A-<tspan class="p">T</tspan>PVV<tspan class="p">NT</tspan>LV<tspan class="p">S</tspan>LL<tspan class="p">S</tspan>M<tspan class="g">G</tspan><tspan class="p">S</tspan><tspan class="b">K</tspan><tspan class="p">N</tspan>-<tspan class="r">Y</tspan>L<tspan class="a">E</tspan>LV<tspan class="b">K</tspan><tspan class="p">NQ</tspan><tspan class="b">K</tspan><tspan class="p">NS</tspan><tspan class="b">KK</tspan>LL<tspan class="a">DE</tspan>LL</text></g>
<g transform="translate(0,9.6)"><text class="n i">M. kandleri</text><text class="s e" x="131">291</text><text class="s e" x="649">337</text>
<text class="s" x="137.5">V<tspan class="p">S</tspan>--------------------------<tspan class="b">R</tspan>A<tspan class="r">Y</tspan>P<tspan class="g">G</tspan><tspan class="b">R</tspan>A<tspan class="p">S</tspan>A-APVA<tspan class="b">H</tspan>ALI<tspan class="p">S</tspan>LL<tspan class="p">S</tspan>L<tspan class="g">G</tspan>M<tspan class="b">K</tspan><tspan class="g">G</tspan>-<tspan class="r">Y</tspan><tspan class="b">RR</tspan>LM<tspan class="b">RR</tspan><tspan class="p">Q</tspan><tspan class="b">K</tspan><tspan class="a">E</tspan>C<tspan class="b">K</tspan>ALL<tspan class="a">DE</tspan>LL</text></g>
<g transform="translate(0,19.2)"><text class="n i">H. sapiens</text><text class="s e" x="131">306</text><text class="s e" x="649">352</text>
<text class="s" x="137.5">I<tspan class="p">S</tspan>--------------------------<tspan class="b">K</tspan>M<tspan class="r">Y</tspan>P<tspan class="g">G</tspan><tspan class="b">R</tspan>A<tspan class="p">S</tspan>A-<tspan class="p">S</tspan>P<tspan class="p">S</tspan>L<tspan class="a">D</tspan>VLI<tspan class="p">T</tspan>LL<tspan class="p">S</tspan>L<tspan class="g">G</tspan><tspan class="p">SN</tspan><tspan class="g">G</tspan>-<tspan class="r">Y</tspan><tspan class="b">KK</tspan>LL<tspan class="b">K</tspan><tspan class="a">E</tspan><tspan class="b">RK</tspan><tspan class="a">E</tspan>M<tspan class="r">F</tspan><tspan class="p">S</tspan><tspan class="r">Y</tspan>L<tspan class="p">SNQ</tspan>I</text></g>
<g transform="translate(0,28.8)"><text class="n i">T. thermophila</text><text class="s e" x="131">305</text><text class="s e" x="649">351</text>
<text class="s" x="137.5">I<tspan class="p">N</tspan>--------------------------<tspan class="p">Q</tspan>L<tspan class="r">Y</tspan>P<tspan class="g">G</tspan><tspan class="b">R</tspan>A<tspan class="p">S</tspan>A-<tspan class="g">G</tspan>PIL<tspan class="a">D</tspan>V<tspan class="r">F</tspan>I<tspan class="p">T</tspan>LL<tspan class="p">S</tspan>M<tspan class="g">G</tspan><tspan class="b">KK</tspan><tspan class="g">G</tspan>-L<tspan class="b">K</tspan><tspan class="a">D</tspan>LL<tspan class="p">SQ</tspan><tspan class="b">RK</tspan><tspan class="a">E</tspan><tspan class="p">N</tspan>L<tspan class="p">Q</tspan><tspan class="r">Y</tspan>L<tspan class="b">K</tspan><tspan class="a">D</tspan>CL</text></g>
<g transform="translate(0,38.4)"><text class="n">SepCysS (2e7j)</text><text class="s e" x="131">230</text><text class="s e" x="649">285</text>
<text class="s" x="137.5">VL<tspan class="b">RR</tspan>-------<tspan class="p">S</tspan><tspan class="a">E</tspan><tspan class="b">K</tspan>------<tspan class="r">Y</tspan>-<tspan class="b">K</tspan><tspan class="p">N</tspan><tspan class="b">K</tspan>--<tspan class="a">E</tspan>V<tspan class="a">E</tspan>LL<tspan class="g">G</tspan><tspan class="p">CT</tspan>A<tspan class="b">R</tspan><tspan class="g">G</tspan>A<tspan class="p">T</tspan>II<tspan class="p">T</tspan>LMA<tspan class="p">S</tspan><tspan class="r">F</tspan>P<tspan class="b">H</tspan>V-<tspan class="b">R</tspan><tspan class="a">E</tspan><tspan class="b">R</tspan>-I<tspan class="b">K</tspan>-<tspan class="b">R</tspan><tspan class="r">W</tspan><tspan class="a">DEE</tspan>V<tspan class="a">E</tspan><tspan class="b">K</tspan>A<tspan class="b">RR</tspan><tspan class="r">F</tspan>AA<tspan class="a">E</tspan>M</text></g>
<g transform="translate(0,48)"><text class="n">CsdB (1jf9)</text><text class="s e" x="131">246</text><text class="s e" x="649">317</text>
<text class="s" x="137.5">M-PP<tspan class="r">W</tspan><tspan class="a">E</tspan><tspan class="g">GGG</tspan><tspan class="p">S</tspan>MIA<tspan class="p">T</tspan>V<tspan class="p">S</tspan>L<tspan class="p">S</tspan><tspan class="a">E</tspan><tspan class="g">G</tspan><tspan class="p">TT</tspan><tspan class="r">W</tspan><tspan class="p">T</tspan><tspan class="b">K</tspan>AP<tspan class="r">W</tspan><tspan class="b">R</tspan><tspan class="r">F</tspan><tspan class="a">E</tspan>A<tspan class="g">G</tspan><tspan class="p">T</tspan>P<tspan class="p">NT</tspan>-<tspan class="g">GG</tspan>II<tspan class="g">G</tspan>L<tspan class="g">G</tspan>AAL<tspan class="a">E</tspan><tspan class="r">Y</tspan>V-<tspan class="p">S</tspan>AL<tspan class="g">G</tspan>L<tspan class="p">NN</tspan>IA<tspan class="a">E</tspan><tspan class="r">Y</tspan><tspan class="a">E</tspan><tspan class="p">QN</tspan>LM<tspan class="b">H</tspan><tspan class="r">Y</tspan>AL<tspan class="p">SQ</tspan>L</text></g>
<g transform="translate(0,57.6)"><text class="n">IscS (1p3w)</text><text class="s e" x="131">226</text><text class="s e" x="649">281</text>
<text class="s" x="137.5">I-<tspan class="a">E</tspan>A<tspan class="p">Q</tspan>M<tspan class="b">H</tspan><tspan class="g">GG</tspan>-------------<tspan class="g">G</tspan><tspan class="b">H</tspan>--<tspan class="a">E</tspan><tspan class="b">R</tspan><tspan class="g">G</tspan>M<tspan class="b">R</tspan><tspan class="p">S</tspan><tspan class="g">G</tspan><tspan class="p">T</tspan>LPV-<tspan class="b">H</tspan><tspan class="p">Q</tspan>IV<tspan class="g">G</tspan>M<tspan class="g">G</tspan><tspan class="a">E</tspan>A<tspan class="r">Y</tspan><tspan class="b">R</tspan>IA-<tspan class="b">K</tspan><tspan class="a">EE</tspan>-MA<tspan class="p">T</tspan><tspan class="a">E</tspan>M<tspan class="a">E</tspan><tspan class="b">R</tspan>L<tspan class="b">R</tspan><tspan class="g">G</tspan>L<tspan class="b">R</tspan><tspan class="p">N</tspan><tspan class="b">R</tspan>L<tspan class="r">W</tspan><tspan class="p">N</tspan><tspan class="g">G</tspan>I</text>
<text class="s" x="339.1" y="10">*</text></g>
</g>

<g id="block7" transform="translate(0,550.2)">
<rect class="bl" x="135" y="-17.5" width="34" height="6" rx="3"/><circle class="bld" cx="166" cy="-14.5" r="3"/>
<path class="pk" d="M287 -17.5H322V-20.5L329 -14.5L322 -8.5V-11.5H287Z"/>
<rect class="pk" x="481" y="-17.5" width="67" height="6" rx="3"/><circle class="pkd" cx="545" cy="-14.5" r="3"/>
<path class="pk" d="M551 -17.5H565V-20.5L572 -14.5L565 -8.5V-11.5H551Z"/>
<rect class="pk" x="575" y="-17.5" width="34" height="6" rx="3"/><circle class="pkd" cx="606" cy="-14.5" r="3"/>
<text class="l" x="308" y="-10.5">β11</text><text class="l" x="517" y="-10.5">α13</text><text class="l" x="561" y="-10.5">β12</text><text class="l" x="591" y="-10.5">α14</text>
<g><text class="n"><tspan class="i">M. maripaludis</tspan> (2z67)</text><text class="s e" x="131">347</text><text class="s e" x="649">392</text>
<text class="s" x="137.5"><tspan class="p">N</tspan><tspan class="a">D</tspan>L<tspan class="p">S</tspan><tspan class="b">KK</tspan><tspan class="p">T</tspan><tspan class="g">G</tspan>-<tspan class="g">G</tspan><tspan class="b">K</tspan><tspan class="r">F</tspan>L<tspan class="a">D</tspan>-V---<tspan class="a">E</tspan><tspan class="p">S</tspan>-P-IA<tspan class="p">S</tspan>CI<tspan class="p">S</tspan>V<tspan class="p">N</tspan>---------------<tspan class="p">S</tspan><tspan class="a">D</tspan>------PV<tspan class="a">E</tspan>IAA<tspan class="b">K</tspan>L<tspan class="r">Y</tspan><tspan class="p">N</tspan>L<tspan class="b">R</tspan>V<tspan class="p">T</tspan><tspan class="g">G</tspan>P<tspan class="b">R</tspan><tspan class="g">G</tspan>I-</text></g>
<g transform="translate(0,9.6)"><text class="n i">M. kandleri</text><text class="s e" x="131">338</text><text class="s e" x="649">385</text>
<text class="s" x="137.5"><tspan class="a">ED</tspan>L<tspan class="a">E</tspan>A<tspan class="b">RR</tspan><tspan class="a">DD</tspan>V<tspan class="b">R</tspan>VL<tspan class="a">D</tspan>-V---<tspan class="a">D</tspan><tspan class="p">N</tspan>-P-IA<tspan class="p">S</tspan>AVAV<tspan class="a">E</tspan><tspan class="g">G</tspan>--------------<tspan class="b">H</tspan><tspan class="a">D</tspan>------PV<tspan class="a">D</tspan>LAA<tspan class="b">R</tspan>L<tspan class="r">Y</tspan>V<tspan class="b">RR</tspan>V<tspan class="p">T</tspan><tspan class="g">G</tspan>P<tspan class="b">R</tspan><tspan class="g">G</tspan>V-</text></g>
<g transform="translate(0,19.2)"><text class="n i">H. sapiens</text><text class="s e" x="131">353</text><text class="s e" x="649">406</text>
<text class="s" x="137.5"><tspan class="b">KK</tspan>L<tspan class="p">S</tspan><tspan class="a">E</tspan>A<tspan class="r">Y</tspan><tspan class="p">N</tspan>-<tspan class="a">E</tspan><tspan class="b">R</tspan>LL<tspan class="b">H</tspan><tspan class="p">T</tspan>P---<tspan class="b">H</tspan><tspan class="p">N</tspan>-P-I<tspan class="p">S</tspan>LAM<tspan class="p">T</tspan>L<tspan class="b">K</tspan><tspan class="p">T</tspan>L--------<tspan class="a">DE</tspan><tspan class="b">HR</tspan><tspan class="a">D</tspan><tspan class="b">K</tspan>A------V<tspan class="p">TQ</tspan>L<tspan class="g">G</tspan><tspan class="p">S</tspan>ML<tspan class="r">F</tspan><tspan class="p">T</tspan><tspan class="b">R</tspan><tspan class="p">Q</tspan>V<tspan class="p">S</tspan><tspan class="g">G</tspan>A<tspan class="b">R</tspan>VV-</text></g>
<g transform="translate(0,28.8)"><text class="n i">T. thermophila</text><text class="s e" x="131">352</text><text class="s e" x="649">413</text>
<text class="s" x="137.5"><tspan class="p">Q</tspan><tspan class="b">K</tspan><tspan class="r">F</tspan>A<tspan class="a">E</tspan><tspan class="b">RH</tspan><tspan class="p">S</tspan>-<tspan class="a">E</tspan><tspan class="b">R</tspan>LL<tspan class="a">D</tspan>I<tspan class="b">K</tspan>---<tspan class="a">E</tspan><tspan class="p">N</tspan>-<tspan class="p">T</tspan>-I<tspan class="p">S</tspan>LAL<tspan class="p">T</tspan>L<tspan class="p">TT</tspan>M<tspan class="b">K</tspan><tspan class="a">E</tspan><tspan class="p">Q</tspan>IIL<tspan class="a">E</tspan><tspan class="b">K</tspan><tspan class="a">E</tspan><tspan class="p">Q</tspan><tspan class="a">E</tspan><tspan class="p">N</tspan><tspan class="a">E</tspan><tspan class="b">K</tspan><tspan class="a">D</tspan>------I<tspan class="p">TS</tspan>L<tspan class="g">GG</tspan>IL<tspan class="r">Y</tspan><tspan class="p">S</tspan><tspan class="b">KR</tspan>VM<tspan class="g">G</tspan><tspan class="p">S</tspan><tspan class="b">R</tspan>IL-</text></g>
<g transform="translate(0,38.4)"><text class="n">SepCysS (2e7j)</text><text class="s e" x="131">286</text><text class="s e" x="649">338</text>
<text class="s" x="137.5"><tspan class="a">E</tspan><tspan class="b">K</tspan>L----<tspan class="g">G</tspan>-I<tspan class="b">K</tspan><tspan class="p">Q</tspan>L--<tspan class="g">G</tspan><tspan class="a">D</tspan><tspan class="p">N</tspan>-P<tspan class="b">H</tspan><tspan class="p">N</tspan><tspan class="b">H</tspan>-<tspan class="a">D</tspan>LM<tspan class="r">FF</tspan><tspan class="b">H</tspan>A<tspan class="a">E</tspan>VL<tspan class="r">Y</tspan>-----------<tspan class="a">E</tspan>I<tspan class="p">S</tspan><tspan class="b">KK</tspan>A<tspan class="b">K</tspan><tspan class="g">GG</tspan><tspan class="b">R</tspan><tspan class="r">FF</tspan>L<tspan class="r">Y</tspan><tspan class="b">R</tspan><tspan class="a">E</tspan>L<tspan class="b">K</tspan><tspan class="p">S</tspan><tspan class="b">RK</tspan>I<tspan class="b">H</tspan><tspan class="g">G</tspan>--I<tspan class="b">K</tspan>P</text></g>
<g transform="translate(0,48)"><text class="n">CsdB (1jf9)</text><text class="s e" x="131">318</text><text class="s e" x="649">360</text>
<text class="s" x="137.5"><tspan class="a">E</tspan><tspan class="p">S</tspan>V---P<tspan class="a">D</tspan>-L<tspan class="p">T</tspan>L<tspan class="r">Y</tspan>--<tspan class="g">G</tspan>P<tspan class="p">Q</tspan>-<tspan class="p">N</tspan><tspan class="b">R</tspan>-L-<tspan class="g">G</tspan>VIA<tspan class="r">F</tspan><tspan class="p">N</tspan>L<tspan class="g">G</tspan>---------------<tspan class="b">KHH</tspan>-----A<tspan class="r">Y</tspan><tspan class="a">D</tspan>V<tspan class="g">G</tspan><tspan class="p">S</tspan><tspan class="r">F</tspan>L<tspan class="a">D</tspan><tspan class="p">N</tspan><tspan class="r">Y</tspan><tspan class="g">G</tspan>IAV-<tspan class="b">R</tspan><tspan class="p">T</tspan>--</text></g>
<g transform="translate(0,57.6)"><text class="n">IscS (1p3w)</text><text class="s e" x="131">282</text><text class="s e" x="649">324</text>
<text class="s" x="137.5"><tspan class="b">K</tspan><tspan class="a">D</tspan>I---<tspan class="a">EE</tspan>-V<tspan class="r">Y</tspan>L<tspan class="p">N</tspan>--<tspan class="g">G</tspan><tspan class="a">D</tspan>L<tspan class="a">E</tspan><tspan class="b">H</tspan><tspan class="g">G</tspan>-AP<tspan class="p">N</tspan>IL<tspan class="p">N</tspan>V<tspan class="p">S</tspan><tspan class="r">F</tspan><tspan class="p">N</tspan>---------------<tspan class="r">Y</tspan>V<tspan class="a">E</tspan>-----<tspan class="g">G</tspan><tspan class="a">E</tspan><tspan class="p">S</tspan>LIMAL-<tspan class="b">K</tspan><tspan class="a">D</tspan>-LAV-<tspan class="p">SS</tspan>--</text>
<text class="s" x="528.1" y="10">*</text></g>
</g>

<g id="block8" transform="translate(0,637.9)">
<rect class="box" x="142.8" y="10.9" width="83.9" height="20.9"/>
<rect class="box" x="589.1" y="10.9" width="22" height="20.9"/>
<text class="t" x="150" y="-9">insertion</text>
<path class="pk" d="M387 -17.5H439V-20.5L446 -14.5L439 -8.5V-11.5H387Z"/>
<rect class="pk" x="469" y="-17.5" width="89" height="6" rx="3"/><circle class="pkd" cx="555" cy="-14.5" r="3"/>
<text class="l" x="417" y="-10.5">β13</text><text class="l" x="512" y="-10.5">α15</text>
<g><text class="n"><tspan class="i">M. maripaludis</tspan> (2z67)</text><text class="s e" x="131">393</text><text class="s e" x="649">436</text>
<text class="s" x="137.5"><tspan class="b">K</tspan>----------<tspan class="b">K</tspan><tspan class="p">T</tspan><tspan class="a">D</tspan>-----------<tspan class="b">H</tspan><tspan class="r">F</tspan><tspan class="g">G</tspan><tspan class="p">N</tspan>C<tspan class="r">Y</tspan>L<tspan class="g">G</tspan><tspan class="p">T</tspan><tspan class="r">Y</tspan><tspan class="p">T</tspan>---<tspan class="b">H</tspan><tspan class="a">D</tspan>--<tspan class="r">Y</tspan>IVM<tspan class="p">N</tspan>AAI<tspan class="g">G</tspan>V<tspan class="b">R</tspan><tspan class="p">T</tspan><tspan class="a">ED</tspan>IV<tspan class="p">NS</tspan>V<tspan class="p">S</tspan><tspan class="b">K</tspan>L<tspan class="a">E</tspan><tspan class="b">K</tspan>ILL-----</text></g>
<g transform="translate(0,9.6)"><text class="n i">M. kandleri</text><text class="s e" x="131">386</text><text class="s e" x="649">431</text>
<text class="s" x="137.5"><tspan class="b">R</tspan>----------A<tspan class="a">DD</tspan>-----------P<tspan class="r">F</tspan><tspan class="g">G</tspan><tspan class="p">TS</tspan><tspan class="b">R</tspan>L<tspan class="b">R</tspan><tspan class="g">G</tspan><tspan class="r">Y</tspan><tspan class="b">H</tspan>---<tspan class="p">SN</tspan>--<tspan class="r">Y</tspan>I<tspan class="p">T</tspan>I<tspan class="p">N</tspan>AAI<tspan class="g">G</tspan>V<tspan class="b">R</tspan><tspan class="a">EED</tspan>V<tspan class="b">K</tspan><tspan class="p">T</tspan>AV<tspan class="a">E</tspan><tspan class="b">R</tspan>L<tspan class="a">E</tspan><tspan class="b">R</tspan><tspan class="a">E</tspan>L<tspan class="a">E</tspan><tspan class="g">G</tspan><tspan class="a">E</tspan>---</text></g>
<g transform="translate(0,19.2)"><text class="n i">H. sapiens</text><text class="s e" x="131">407</text><text class="s e" x="649">464</text>
<text class="s" x="137.5"><tspan class="r">F</tspan>L<tspan class="g">G</tspan><tspan class="p">S</tspan>M<tspan class="p">QT</tspan>V<tspan class="p">S</tspan><tspan class="g">G</tspan><tspan class="r">Y</tspan><tspan class="p">T</tspan><tspan class="r">F</tspan><tspan class="b">R</tspan>-----------<tspan class="g">G</tspan><tspan class="r">F</tspan>M<tspan class="p">S</tspan><tspan class="b">H</tspan><tspan class="p">TNN</tspan>-<tspan class="r">Y</tspan>P---CA--<tspan class="r">Y</tspan>L<tspan class="p">N</tspan>AA<tspan class="p">S</tspan>AI<tspan class="g">G</tspan>M<tspan class="b">K</tspan>M<tspan class="p">Q</tspan><tspan class="a">D</tspan>V<tspan class="a">D</tspan>L<tspan class="r">F</tspan>I<tspan class="b">KR</tspan>L<tspan class="a">D</tspan><tspan class="b">R</tspan>CL<tspan class="b">K</tspan>AV<tspan class="b">RK</tspan><tspan class="a">E</tspan></text></g>
<g transform="translate(0,28.8)"><text class="n i">T. thermophila</text><text class="s e" x="131">414</text><text class="s e" x="649">471</text>
<text class="s" x="137.5">-<tspan class="p">SNQT</tspan><tspan class="b">K</tspan><tspan class="p">S</tspan>VC<tspan class="g">G</tspan>I<tspan class="b">K</tspan><tspan class="r">F</tspan><tspan class="b">K</tspan>-----------<tspan class="p">N</tspan><tspan class="r">Y</tspan><tspan class="g">G</tspan><tspan class="p">S</tspan><tspan class="b">H</tspan><tspan class="p">S</tspan><tspan class="a">D</tspan><tspan class="p">S</tspan>-<tspan class="r">F</tspan><tspan class="p">T</tspan><tspan class="r">Y</tspan>--LP--<tspan class="r">Y</tspan>M<tspan class="p">T</tspan>IACAI<tspan class="g">G</tspan>M<tspan class="a">E</tspan><tspan class="b">KK</tspan><tspan class="a">E</tspan>I<tspan class="a">D</tspan><tspan class="p">Q</tspan><tspan class="r">F</tspan>LL<tspan class="b">K</tspan>L<tspan class="a">ED</tspan><tspan class="p">S</tspan><tspan class="r">F</tspan><tspan class="p">Q</tspan><tspan class="a">E</tspan>L<tspan class="b">KKK</tspan></text></g>
<g transform="translate(0,38.4)"><text class="n">SepCysS (2e7j)</text><text class="s e" x="131">339</text><text class="s e" x="649">371</text>
<text class="s" x="137.5"><tspan class="g">G</tspan>---------------------------------------L<tspan class="p">T</tspan><tspan class="b">R</tspan><tspan class="r">YF</tspan><tspan class="b">K</tspan>L<tspan class="p">ST</tspan><tspan class="r">Y</tspan>-<tspan class="g">G</tspan>L<tspan class="p">S</tspan><tspan class="a">DEE</tspan>V<tspan class="a">D</tspan><tspan class="r">Y</tspan>VL<tspan class="p">N</tspan>A<tspan class="r">F</tspan><tspan class="b">K</tspan><tspan class="a">E</tspan>II<tspan class="a">E</tspan><tspan class="b">K</tspan><tspan class="r">Y</tspan><tspan class="p">S</tspan>--</text></g>
<g transform="translate(0,48)"><text class="n">CsdB (1jf9)</text><text class="s e" x="131">361</text><text class="s e" x="649">406</text>
<text class="s" x="137.5"><tspan class="g">G</tspan>-------------<tspan class="b">HH</tspan>CAM------PLMA<tspan class="r">Y</tspan>----<tspan class="r">Y</tspan><tspan class="p">N</tspan>---VPA-MC<tspan class="b">R</tspan>A<tspan class="p">S</tspan>LAM<tspan class="r">Y</tspan><tspan class="p">NT</tspan><tspan class="b">H</tspan><tspan class="a">EE</tspan>V<tspan class="a">D</tspan><tspan class="b">R</tspan>LV<tspan class="p">T</tspan><tspan class="g">G</tspan>L<tspan class="p">Q</tspan><tspan class="b">R</tspan>I<tspan class="b">HR</tspan>LL<tspan class="g">G</tspan>--</text></g>
<g transform="translate(0,57.6)"><text class="n">IscS (1p3w)</text><text class="s e" x="131">325</text><text class="s e" x="649">383</text>
<text class="s" x="137.5"><tspan class="g">G</tspan>-------------<tspan class="p">S</tspan>AC<tspan class="p">TS</tspan>A<tspan class="p">S</tspan>L<tspan class="a">E</tspan>P<tspan class="p">S</tspan><tspan class="r">Y</tspan>VL<tspan class="b">R</tspan>AL-<tspan class="g">G</tspan>-L<tspan class="p">N</tspan><tspan class="a">DE</tspan>LA<tspan class="b">H</tspan><tspan class="p">S</tspan>-<tspan class="p">S</tspan>I<tspan class="b">R</tspan><tspan class="r">F</tspan><tspan class="p">S</tspan>L<tspan class="g">G</tspan><tspan class="b">R</tspan><tspan class="r">F</tspan><tspan class="p">TT</tspan><tspan class="a">EEE</tspan>I<tspan class="a">D</tspan><tspan class="r">Y</tspan><tspan class="p">T</tspan>I<tspan class="a">E</tspan>LV<tspan class="b">RK</tspan><tspan class="p">S</tspan>I<tspan class="g">G</tspan><tspan class="b">R</tspan>L<tspan class="b">R</tspan><tspan class="a">D</tspan>L</text></g>
</g>

<g id="block9" transform="translate(0,725.6)">
<rect class="box" x="136" y="10.9" width="235.6" height="20.9"/>
<text class="t" x="194" y="-9">antigenic region</text>
<g><text class="n"><tspan class="i">M. maripaludis</tspan> (2z67)</text>
<text class="s" x="137.5">-------------------------------------</text></g>
<g transform="translate(0,9.6)"><text class="n i">M. kandleri</text>
<text class="s" x="137.5">-------------------------------------</text></g>
<g transform="translate(0,19.2)"><text class="n i">H. sapiens</text><text class="s e" x="131">465</text><text class="s e" x="412">501</text>
<text class="s" x="137.5"><tspan class="b">R</tspan><tspan class="p">S</tspan><tspan class="b">K</tspan><tspan class="a">E</tspan><tspan class="p">S</tspan><tspan class="a">DD</tspan><tspan class="p">N</tspan><tspan class="r">Y</tspan><tspan class="a">D</tspan><tspan class="b">K</tspan><tspan class="p">T</tspan><tspan class="a">ED</tspan>V<tspan class="a">D</tspan>I<tspan class="a">EE</tspan>MAL<tspan class="b">K</tspan>L<tspan class="a">D</tspan><tspan class="p">N</tspan>VLL<tspan class="a">D</tspan><tspan class="p">T</tspan><tspan class="r">Y</tspan><tspan class="p">Q</tspan><tspan class="a">D</tspan>A<tspan class="p">SS</tspan></text></g>
<g transform="translate(0,28.8)"><text class="n i">T. thermophila</text><text class="s e" x="131">472</text><text class="s e" x="412">476</text>
<text class="s" x="137.5"><tspan class="b">K</tspan>V<tspan class="a">D</tspan><tspan class="b">K</tspan><tspan class="p">Q</tspan>--------------------------------</text></g>
<g transform="translate(0,38.4)"><text class="n">SepCysS (2e7j)</text>
<text class="s" x="137.5">-------------------------------------</text></g>
<g transform="translate(0,48)"><text class="n">CsdB (1jf9)</text>
<text class="s" x="137.5">-------------------------------------</text></g>
<g transform="translate(0,57.6)"><text class="n">IscS (1p3w)</text><text class="s e" x="131">384</text><text class="s e" x="412">392</text>
<text class="s" x="137.5"><tspan class="p">S</tspan>PL<tspan class="r">W</tspan><tspan class="a">E</tspan>M<tspan class="r">Y</tspan><tspan class="b">K</tspan><tspan class="p">Q</tspan>----------------------------</text></g>
<g id="legend">
<text class="s" x="458">X</text><text class="s" x="479">hydrophobic</text>
<text class="s p" x="458" y="11.5">X</text><text class="s" x="479" y="11.5">polar</text>
<text class="s b" x="458" y="23">X</text><text class="s" x="479" y="23">basic</text>
<text class="s a" x="458" y="34.5">X</text><text class="s" x="479" y="34.5">acidic</text>
<text class="s r" x="458" y="46">X</text><text class="s" x="479" y="46">aromatic</text>
<text class="s g" x="458" y="57.5">X</text><text class="s" x="479" y="57.5">glycine</text>
</g>
</g>
</svg>
